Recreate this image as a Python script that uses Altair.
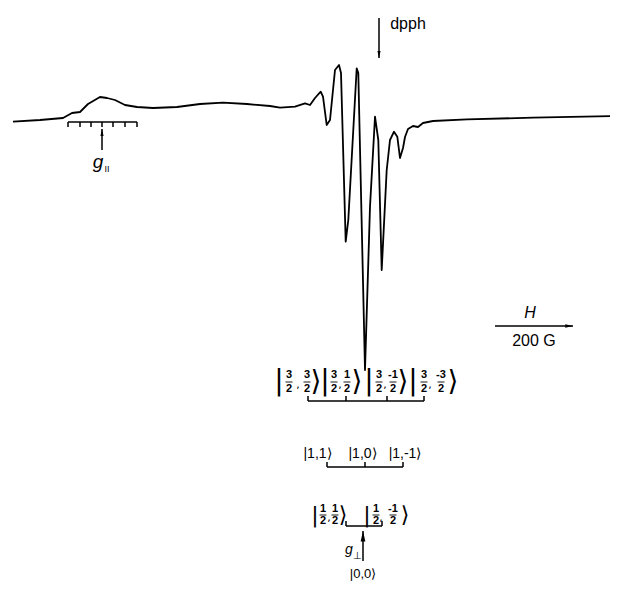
import altair as alt
import pandas as pd

# ---------------- data (positions in page pixels: field axis -> x, signal -> y) -------------
spec_x = [13, 40, 63, 72, 80, 88, 100, 107, 115, 125, 137, 153, 177, 200, 223, 247, 270, 280,
          295, 305, 310, 315, 320.7, 323, 326.7, 330, 335, 339, 341, 345.7, 348.3, 356.7, 358.3,
          365, 370, 375, 378.3, 381.7, 386.7, 390, 394, 397.3, 400, 403, 405, 408, 413, 418,
          423, 433, 467, 533, 612]
spec_y = [121.7, 120, 118, 113, 112, 104, 97, 98, 100, 105, 107, 108, 107, 104, 102.7, 104, 106,
          107.7, 106.7, 103.3, 105, 98, 91.7, 96.7, 125, 120, 70, 65, 73, 241.7, 220, 68.3, 73,
          370, 206.7, 116.7, 140, 270, 170, 140, 131.7, 136.7, 158, 148, 137, 129, 126, 127,
          123, 121, 119.3, 117.7, 116]

# brackets: (left, right, y, tick positions, tick end y)
bracket_left = [68, 308, 327, 346]
bracket_right = [137, 424, 403, 382]
bracket_y = [122, 401, 467, 526]
bracket_ticks = [[68, 80, 91, 102, 113, 125, 137], [308, 346, 387, 424], [327, 365, 403], [346, 382]]
bracket_tick_end = [127, 396, 462, 521]

# arrows: shaft x1,y1 -> x2,y2 (tip at x2,y2)
arrow_x1 = [102, 379, 363, 495]
arrow_y1 = [150, 18, 561, 326]
arrow_x2 = [102, 379, 363, 573]
arrow_y2 = [129, 58, 531, 326]
arrow_dir = ["up", "down", "up", "right"]
arrow_size = [50, 50, 110, 60]

# plain labels
label_text = ["dpph", "200 G", "|1,1⟩", "|1,0⟩", "|1,-1⟩", "|0,0⟩", "II", "⊥"]
label_x = [408, 534, 317.5, 362.5, 405, 363, 107, 357]
label_y = [24, 341, 454, 454, 454, 574, 169, 556]
label_size = [16, 16, 14, 14, 14, 13, 9, 10]
italic_text = ["g", "H", "g"]
italic_x = [98, 530, 349]
italic_y = [162, 313, 550]
italic_size = [19, 16, 14]

# kets with fractions
ket_bar_x = [279, 325, 369, 413, 315, 367]
ket_close_x = [316, 357, 403, 453, 343, 405]
ket_comma_x = [298, 340, 385, 430, 329, 381]
ket_row_y = [382, 382, 382, 382, 515, 515]
ket_big_size = [28, 28, 28, 28, 22, 22]
frac_x = [289, 307, 334, 347, 379, 393, 424, 441, 323, 335, 376, 393]
frac_num = ["3", "3", "3", "1", "3", "-1", "3", "-3", "1", "1", "1", "-1"]
frac_den = ["2"] * 12
frac_y = [382] * 8 + [515] * 4
frac_gap = [7] * 8 + [6] * 4

# ---------------- build tables ----------------
xs = alt.Scale(domain=[8, 610], nice=False, zero=False)
ys = alt.Scale(domain=[8, 581], nice=False, zero=False, reverse=True)


def X(f):
    return alt.X(f, type="quantitative", scale=xs, axis=None)


def Y(f):
    return alt.Y(f, type="quantitative", scale=ys, axis=None)


spec = pd.DataFrame({"field": spec_x, "signal": spec_y, "i": list(range(len(spec_x)))})

segs = []
for l, r, y, ticks, te in zip(bracket_left, bracket_right, bracket_y, bracket_ticks, bracket_tick_end):
    segs.append(dict(x=l, x2=r, y=y, y2=y))
    for t in ticks:
        segs.append(dict(x=t, x2=t, y=y, y2=te))
for x1, y1, x2, y2 in zip(arrow_x1, arrow_y1, arrow_x2, arrow_y2):
    segs.append(dict(x=x1, x2=x2, y=y1, y2=y2))
thin = []
for fx, fy in zip(frac_x, frac_y):
    thin.append(dict(x=fx - 3.5, x2=fx + 3.5, y=fy, y2=fy))
segs_df = pd.DataFrame(segs)
thin_df = pd.DataFrame(thin)

heads = pd.DataFrame({"x": arrow_x2, "y": arrow_y2, "dir": arrow_dir, "s": arrow_size})

labels = pd.DataFrame({"t": label_text, "x": label_x, "y": label_y, "s": label_size})
italics = pd.DataFrame({"t": italic_text, "x": italic_x, "y": italic_y, "s": italic_size})

big = pd.DataFrame({
    "t": ["|"] * len(ket_bar_x) + ["⟩"] * len(ket_close_x) + [","] * len(ket_comma_x),
    "x": ket_bar_x + ket_close_x + ket_comma_x,
    "y": ket_row_y + ket_row_y + [v + 3 for v in ket_row_y],
    "s": ket_big_size + ket_big_size + [11] * len(ket_comma_x),
})
fr = pd.DataFrame({
    "t": frac_num + frac_den,
    "x": frac_x + frac_x,
    "y": [y - g for y, g in zip(frac_y, frac_gap)] + [y + g for y, g in zip(frac_y, frac_gap)],
})

FONT = "Liberation Sans"

line = alt.Chart(spec).mark_line(color="black", strokeWidth=1.8, strokeJoin="round").encode(
    x=X("field"), y=Y("signal"), order="i:Q")

rules = alt.Chart(segs_df).mark_rule(color="black", strokeWidth=1.5).encode(
    x=X("x"), x2="x2", y=Y("y"), y2="y2")
thin_rules = alt.Chart(thin_df).mark_rule(color="black", strokeWidth=0.9).encode(
    x=X("x"), x2="x2", y=Y("y"), y2="y2")

shapes = {
    "up": "M0,0L0.45,2L-0.45,2Z",
    "down": "M0,0L0.45,-2L-0.45,-2Z",
    "right": "M0,0L-2,0.45L-2,-0.45Z",
}
head_layers = []
for d, p in shapes.items():
    head_layers.append(
        alt.Chart(heads).transform_filter(alt.datum.dir == d)
        .mark_point(shape=p, filled=True, color="black", opacity=1, strokeWidth=0)
        .encode(x=X("x"), y=Y("y"), size=alt.Size("s:Q", scale=None, legend=None))
    )

txt = alt.Chart(labels).mark_text(font=FONT, color="black", baseline="middle", align="center").encode(
    x=X("x"), y=Y("y"), text="t:N", size=alt.Size("s:Q", scale=None, legend=None))
itxt = alt.Chart(italics).mark_text(font=FONT, fontStyle="italic", color="black", baseline="middle",
                                    align="center").encode(
    x=X("x"), y=Y("y"), text="t:N", size=alt.Size("s:Q", scale=None, legend=None))
bigtxt = alt.Chart(big).mark_text(font="DejaVu Sans", color="black", baseline="middle",
                                  align="center").encode(
    x=X("x"), y=Y("y"), text="t:N", size=alt.Size("s:Q", scale=None, legend=None))
frtxt = alt.Chart(fr).mark_text(font=FONT, fontSize=11, fontWeight="bold", color="black",
                                baseline="middle", align="center").encode(
    x=X("x"), y=Y("y"), text="t:N")

chart = alt.layer(line, rules, thin_rules, *head_layers, txt, itxt, bigtxt, frtxt).properties(
    width=602, height=573, padding=0, autosize=alt.AutoSizeParams(type="none")
).configure_view(stroke=None)

chart.save("out.html", embed_options={"renderer": "svg", "actions": False})
